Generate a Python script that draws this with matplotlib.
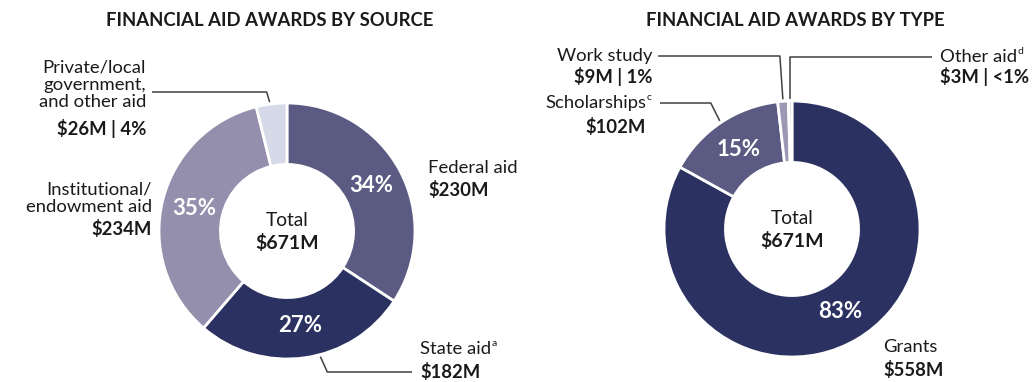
import numpy as np
import matplotlib
matplotlib.use('Agg')
import matplotlib.pyplot as plt

plt.rcParams['font.family'] = ['Lato', 'DejaVu Sans']

# awards by source, $M
source_names = ['Federal aid', 'State aid', 'Institutional/endowment aid',
                'Private/local government, and other aid']
source_vals = [230, 182, 234, 26]
source_colors = ['#5b5a82', '#2b3160', '#938fac', '#d6d9e7']

# awards by type, $M
type_names = ['Grants', 'Scholarships', 'Work study', 'Other aid']
type_vals = [558, 102, 9, 3]
type_colors = ['#2b3160', '#5b5a82', '#9c98b4', '#cfd1e0']

total_awards = 671  # reported total (parts are rounded)

TXT = '#1a1a1a'
W, H = 1033, 382
R = 128
HOLE = 0.48
FS = 13.3

fig = plt.figure(figsize=(W / 100, H / 100), dpi=100)
ax = fig.add_axes([0, 0, 1, 1])
ax.set_xlim(0, W)
ax.set_ylim(0, H)
renderer = fig.canvas.get_renderer()


def Y(y):
    # rows count from the top
    return H - y


def donut(cx, cy, vals, colors):
    total = sum(vals)
    wedges, _ = ax.pie(vals, colors=colors, startangle=90, counterclock=False,
                       center=(cx, Y(cy)), radius=R,
                       wedgeprops=dict(width=R * HOLE, edgecolor='white', linewidth=2))
    for w, v in zip(wedges, vals):
        pct = 100 * v / total
        if pct < 5:
            continue
        a = np.deg2rad((w.theta1 + w.theta2) / 2)
        r = R * 0.745
        ax.text(cx + r * np.cos(a), Y(cy) + r * np.sin(a), f'{pct:.0f}%',
                color='white', fontsize=16, fontweight='bold', ha='center', va='center')
    ax.text(cx, Y(cy) + 10, 'Total', fontsize=FS + 0.5, color=TXT, ha='center', va='center')
    ax.text(cx, Y(cy) - 12, f'${total_awards}M', fontsize=FS + 0.7, fontweight='bold',
            color=TXT, ha='center', va='center')
    return wedges


def anchor(w, cx, cy, frac=0.5):
    a = np.deg2rad(w.theta1 + (w.theta2 - w.theta1) * frac)
    return cx + (R + 2) * np.cos(a), Y(cy) + (R + 2) * np.sin(a)


def leader(pts):
    xs = [p[0] for p in pts]
    ys = [p[1] for p in pts]
    ax.plot(xs, ys, color='#404040', lw=1.1, solid_capstyle='butt')


def label(x, y, name, value, ha='left', gap=22, sup=None):
    t = ax.text(x, Y(y), name, fontsize=FS, color=TXT, ha=ha, va='center', linespacing=1.1)
    if sup:
        # small footnote mark right after the name
        bb = t.get_window_extent(renderer)
        ax.text(bb.x1 + 0.5, Y(y) + 6, sup, fontsize=7.5, color=TXT, ha='left', va='center')
    ax.text(x, Y(y + gap), value, fontsize=FS, fontweight='bold', color=TXT, ha=ha, va='center')


lcx, lcy = 287, 231
rcx, rcy = 792, 229
lw_ = donut(lcx, lcy, source_vals, source_colors)
rw_ = donut(rcx, rcy, type_vals, type_colors)
ax.set_xlim(0, W)
ax.set_ylim(0, H)

ax.text(270, Y(21), 'FINANCIAL AID AWARDS BY SOURCE', fontsize=13.3, fontweight='bold',
        color=TXT, ha='center', va='center')
ax.text(795, Y(21), 'FINANCIAL AID AWARDS BY TYPE', fontsize=13.3, fontweight='bold',
        color=TXT, ha='center', va='center')

# left donut labels
label(428, 168, source_names[0], f'${source_vals[0]}M')
label(420, 349, source_names[1], f'${source_vals[1]}M', gap=23, sup='a')
label(152, 198, 'Institutional/\nendowment aid', f'${source_vals[2]}M', ha='right', gap=31)
label(146, 85, 'Private/local\ngovernment,\nand other aid',
      f'${source_vals[3]}M | {100 * source_vals[3] / sum(source_vals):.0f}%', ha='right', gap=44)

px, py = anchor(lw_[3], lcx, lcy, 0.55)
leader([(152, Y(92)), (px - 3, Y(92)), (px, py)])
sx, sy = anchor(lw_[1], lcx, lcy, 0.57)
leader([(sx, sy), (sx + 7, Y(372)), (412, Y(372))])

# right donut labels
label(652, 56, type_names[2], f'${type_vals[2]}M | {100 * type_vals[2] / sum(type_vals):.0f}%',
      ha='right', gap=21)
label(646, 103, type_names[1], f'${type_vals[1]}M', ha='right', gap=24, sup='c')
label(940, 57, type_names[3], f'${type_vals[3]}M | <1%', gap=20, sup='d')
label(883, 347, type_names[0], f'${type_vals[0]}M', gap=23)

wx, wy = anchor(rw_[2], rcx, rcy)
leader([(658, Y(56)), (wx - 3, Y(56)), (wx, wy)])
ox, oy = anchor(rw_[3], rcx, rcy)
leader([(932, Y(57)), (ox, Y(57)), (ox, oy)])
kx, ky = anchor(rw_[1], rcx, rcy, 0.5)
leader([(660, Y(103)), (kx - 9, Y(103)), (kx, ky)])

ax.set_aspect('equal')
ax.axis('off')

fig.savefig('out.png', dpi=100, facecolor='white')
